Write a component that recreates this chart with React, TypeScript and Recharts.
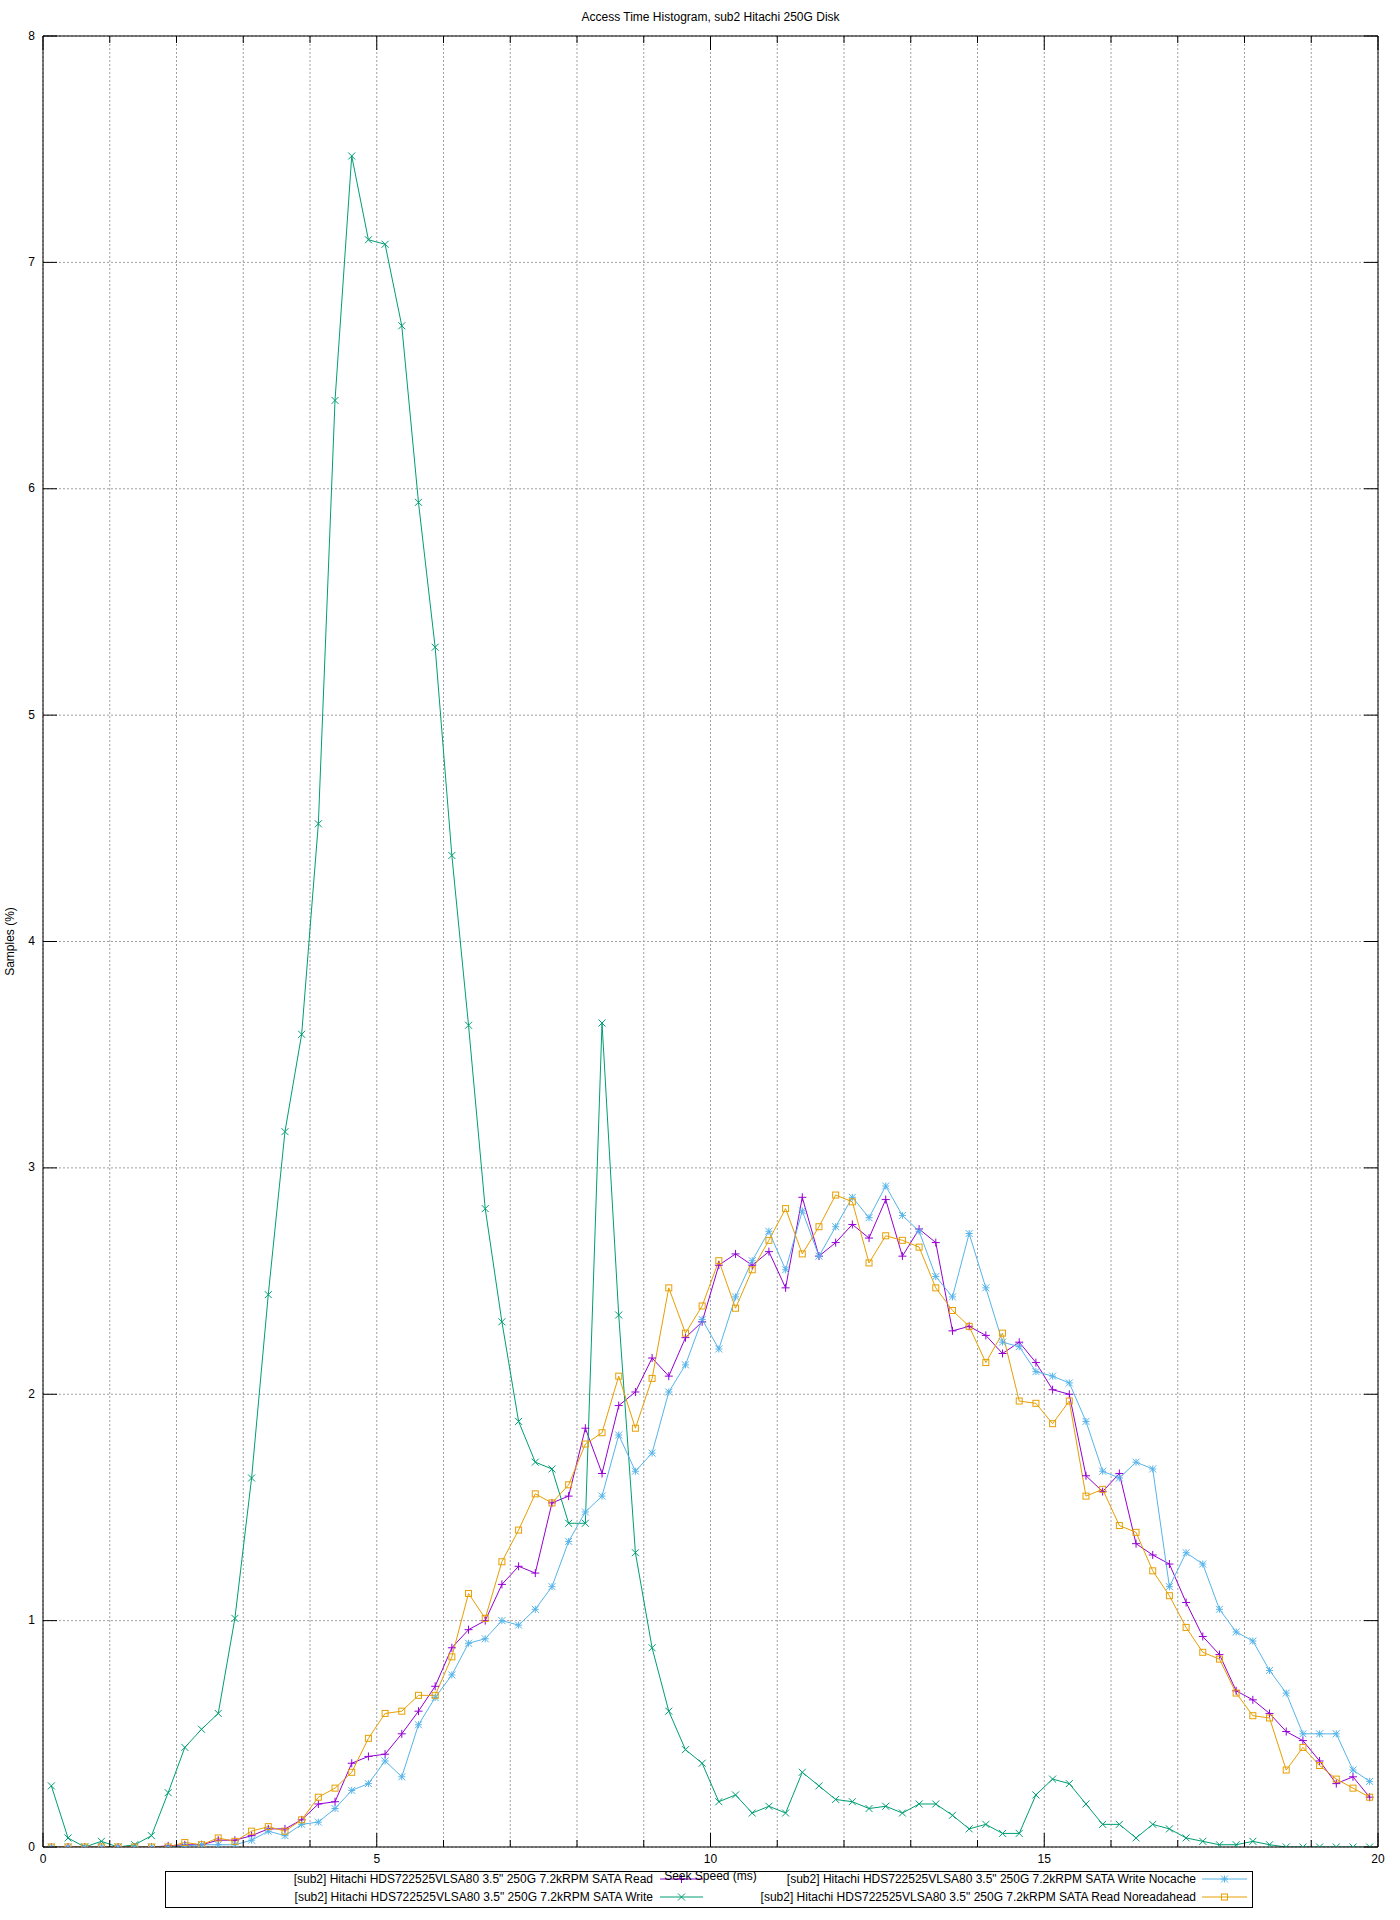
import React from 'react';
import { LineChart, Line, XAxis, YAxis, CartesianGrid } from 'recharts';

// Bin centres (ms)
const SEEK_MS = [
  0.125, 0.375, 0.625, 0.875, 1.125, 1.375, 1.625, 1.875, 2.125, 2.375,
  2.625, 2.875, 3.125, 3.375, 3.625, 3.875, 4.125, 4.375, 4.625, 4.875,
  5.125, 5.375, 5.625, 5.875, 6.125, 6.375, 6.625, 6.875, 7.125, 7.375,
  7.625, 7.875, 8.125, 8.375, 8.625, 8.875, 9.125, 9.375, 9.625, 9.875,
  10.125, 10.375, 10.625, 10.875, 11.125, 11.375, 11.625, 11.875, 12.125, 12.375,
  12.625, 12.875, 13.125, 13.375, 13.625, 13.875, 14.125, 14.375, 14.625, 14.875,
  15.125, 15.375, 15.625, 15.875, 16.125, 16.375, 16.625, 16.875, 17.125, 17.375,
  17.625, 17.875, 18.125, 18.375, 18.625, 18.875, 19.125, 19.375, 19.625, 19.875,
];

const READ = [
  0, 0, 0, 0, 0, 0, 0, 0.005, 0.01, 0.01,
  0.03, 0.03, 0.05, 0.08, 0.08, 0.12, 0.19, 0.2, 0.37, 0.4,
  0.41, 0.5, 0.6, 0.71, 0.88, 0.96, 1.0, 1.16, 1.24, 1.21,
  1.52, 1.55, 1.85, 1.65, 1.95, 2.01, 2.16, 2.08, 2.25, 2.32,
  2.57, 2.62, 2.57, 2.63, 2.47, 2.87, 2.61, 2.67, 2.75, 2.69,
  2.86, 2.61, 2.73, 2.67, 2.28, 2.3, 2.26, 2.18, 2.23, 2.14,
  2.02, 2.0, 1.64, 1.57, 1.65, 1.34, 1.29, 1.25, 1.08, 0.93,
  0.85, 0.69, 0.65, 0.59, 0.51, 0.47, 0.38, 0.28, 0.31, 0.22,
];

const WRITE = [
  0.27, 0.04, 0, 0.025, 0, 0.01, 0.05, 0.24, 0.44, 0.52,
  0.59, 1.01, 1.63, 2.44, 3.16, 3.59, 4.52, 6.39, 7.47, 7.1,
  7.08, 6.72, 5.94, 5.3, 4.38, 3.63, 2.82, 2.32, 1.88, 1.7,
  1.67, 1.43, 1.43, 3.64, 2.35, 1.3, 0.88, 0.6, 0.43, 0.37,
  0.2, 0.23, 0.15, 0.18, 0.15, 0.33, 0.27, 0.21, 0.2, 0.17,
  0.18, 0.15, 0.19, 0.19, 0.14, 0.08, 0.1, 0.06, 0.06, 0.23,
  0.3, 0.28, 0.19, 0.1, 0.1, 0.04, 0.1, 0.08, 0.04, 0.025,
  0.01, 0.01, 0.025, 0.01, 0, 0, 0, 0, 0, 0,
];

const WRITE_NOCACHE = [
  0, 0, 0, 0, 0, 0, 0, 0, 0.005, 0.01,
  0.01, 0.01, 0.03, 0.07, 0.05, 0.1, 0.11, 0.17, 0.25, 0.28,
  0.38, 0.31, 0.54, 0.66, 0.76, 0.9, 0.92, 1.0, 0.98, 1.05,
  1.15, 1.35, 1.48, 1.55, 1.82, 1.66, 1.74, 2.01, 2.13, 2.33,
  2.2, 2.43, 2.59, 2.72, 2.55, 2.81, 2.61, 2.74, 2.87, 2.78,
  2.92, 2.79, 2.72, 2.52, 2.43, 2.71, 2.47, 2.23, 2.21, 2.1,
  2.08, 2.05, 1.88, 1.66, 1.63, 1.7, 1.67, 1.15, 1.3, 1.25,
  1.05, 0.95, 0.91, 0.78, 0.68, 0.5, 0.5, 0.5, 0.34, 0.29,
];

const READ_NOREADAHEAD = [
  0, 0, 0, 0, 0, 0, 0, 0, 0.02, 0.01,
  0.04, 0.025, 0.07, 0.09, 0.07, 0.12, 0.22, 0.26, 0.33, 0.48,
  0.59, 0.6, 0.67, 0.67, 0.84, 1.12, 1.01, 1.26, 1.4, 1.56,
  1.52, 1.6, 1.78, 1.83, 2.08, 1.85, 2.07, 2.47, 2.27, 2.39,
  2.59, 2.38, 2.55, 2.68, 2.82, 2.62, 2.74, 2.88, 2.85, 2.58,
  2.7, 2.68, 2.65, 2.47, 2.37, 2.3, 2.14, 2.27, 1.97, 1.96,
  1.87, 1.97, 1.55, 1.58, 1.42, 1.39, 1.22, 1.11, 0.97, 0.86,
  0.83, 0.68, 0.58, 0.57, 0.34, 0.44, 0.36, 0.3, 0.26, 0.22,
];

const X_TICKS = [0, 1, 2, 3, 4, 5, 6, 7, 8, 9, 10, 11, 12, 13, 14, 15, 16, 17, 18, 19, 20];
const X_MAJOR = [0, 5, 10, 15, 20];
const Y_TICKS = [0, 1, 2, 3, 4, 5, 6, 7, 8];

const TITLE = 'Access Time Histogram, sub2 Hitachi 250G Disk';
const X_LABEL = 'Seek Speed (ms)';
const Y_LABEL = 'Samples (%)';

const SERIES = [
  { key: 'read', name: '[sub2] Hitachi HDS722525VLSA80 3.5" 250G 7.2kRPM SATA Read', color: '#9400d3', shape: 'plus' },
  { key: 'write', name: '[sub2] Hitachi HDS722525VLSA80 3.5" 250G 7.2kRPM SATA Write', color: '#009e73', shape: 'cross' },
  { key: 'nocache', name: '[sub2] Hitachi HDS722525VLSA80 3.5" 250G 7.2kRPM SATA Write Nocache', color: '#56b4e9', shape: 'star' },
  { key: 'noreadahead', name: '[sub2] Hitachi HDS722525VLSA80 3.5" 250G 7.2kRPM SATA Read Noreadahead', color: '#e69f00', shape: 'square' },
];

const DATA = SEEK_MS.map((x, i) => ({
  x,
  read: READ[i],
  write: WRITE[i],
  nocache: WRITE_NOCACHE[i],
  noreadahead: READ_NOREADAHEAD[i],
}));

const FONT = '"Liberation Sans", Arial, sans-serif';
const W = 1400;
const H = 1920;
const TOP = 36;
const BOTTOM_H = 73;
const LEFT_W = 43;
const RIGHT_W = 22;
const MAJOR_LEN = 14;
const MINOR_LEN = 7;

function Marker({ shape, color, cx, cy }: { shape: string; color: string; cx: number; cy: number }) {
  const h = shape === 'plus' ? 4 : 3.5;
  const plus = (
    <>
      <line x1={cx - h} y1={cy} x2={cx + h} y2={cy} stroke={color} strokeWidth={1} />
      <line x1={cx} y1={cy - h} x2={cx} y2={cy + h} stroke={color} strokeWidth={1} />
    </>
  );
  const cross = (
    <>
      <line x1={cx - h} y1={cy - h} x2={cx + h} y2={cy + h} stroke={color} strokeWidth={1} />
      <line x1={cx - h} y1={cy + h} x2={cx + h} y2={cy - h} stroke={color} strokeWidth={1} />
    </>
  );
  if (shape === 'plus') return <g>{plus}</g>;
  if (shape === 'cross') return <g>{cross}</g>;
  if (shape === 'star') return <g>{plus}{cross}</g>;
  return <rect x={cx - 3} y={cy - 3} width={6} height={6} fill="none" stroke={color} strokeWidth={1} />;
}

const makeDot = (shape: string, color: string, key: string) => (props: any) => {
  const { cx, cy, index } = props;
  if (cx == null || cy == null) return <g key={`${key}-${index}`} />;
  return (
    <g key={`${key}-${index}`}>
      <Marker shape={shape} color={color} cx={cx} cy={cy} />
    </g>
  );
};

const textStyle = { fontFamily: FONT, fontSize: 12, fill: '#000' } as const;

const BottomTick = (props: any) => {
  const { x, y, payload } = props;
  const major = X_MAJOR.includes(payload.value);
  return (
    <g>
      <line x1={x} y1={y} x2={x} y2={y - (major ? MAJOR_LEN : MINOR_LEN)} stroke="#000" strokeWidth={1} />
      {major && (
        <text x={x} y={y + 16} textAnchor="middle" style={textStyle}>
          {payload.value}
        </text>
      )}
    </g>
  );
};

const TopTick = (props: any) => {
  const { x, y, payload } = props;
  const major = X_MAJOR.includes(payload.value);
  return (
    <line x1={x} y1={y} x2={x} y2={y + (major ? MAJOR_LEN : MINOR_LEN)} stroke="#000" strokeWidth={1} />
  );
};

const LeftTick = (props: any) => {
  const { x, y, payload } = props;
  return (
    <g>
      <line x1={x} y1={y} x2={x + MAJOR_LEN} y2={y} stroke="#000" strokeWidth={1} />
      <text x={x - 8} y={y + 3.5} textAnchor="end" style={textStyle}>
        {payload.value}
      </text>
    </g>
  );
};

const RightTick = (props: any) => {
  const { x, y } = props;
  return <line x1={x} y1={y} x2={x - MAJOR_LEN} y2={y} stroke="#000" strokeWidth={1} />;
};

function Overlay() {
  const cols = [
    { textRight: 653, lineX1: 660, lineX2: 703 },
    { textRight: 1196, lineX1: 1202, lineX2: 1247 },
  ];
  const rows = [1879, 1897];
  const plotCenterX = (LEFT_W + (W - RIGHT_W)) / 2;
  const plotCenterY = (TOP + (H - BOTTOM_H)) / 2;
  return (
    <svg
      width={W}
      height={H}
      style={{ position: 'absolute', left: 0, top: 0, pointerEvents: 'none' }}
    >
      <text x={plotCenterX} y={21} textAnchor="middle" style={textStyle}>
        {TITLE}
      </text>
      <text
        x={0}
        y={0}
        textAnchor="middle"
        transform={`translate(14, ${plotCenterY}) rotate(-90)`}
        style={textStyle}
      >
        {Y_LABEL}
      </text>
      <rect x={165.5} y={1871.5} width={1087} height={36} fill="none" stroke="#000" strokeWidth={1} />
      {SERIES.map((s, i) => {
        const col = cols[Math.floor(i / 2)];
        const ry = rows[i % 2];
        return (
          <g key={s.key}>
            <text x={col.textRight} y={ry + 4} textAnchor="end" style={textStyle}>
              {s.name}
            </text>
            <line x1={col.lineX1} y1={ry} x2={col.lineX2} y2={ry} stroke={s.color} strokeWidth={1} />
            <Marker shape={s.shape} color={s.color} cx={(col.lineX1 + col.lineX2) / 2} cy={ry} />
          </g>
        );
      })}
      <text x={plotCenterX} y={1880} textAnchor="middle" style={textStyle}>
        {X_LABEL}
      </text>
    </svg>
  );
}

export default function App() {
  return (
    <div style={{ position: 'absolute', left: 0, top: 0, width: W, height: H, background: '#fff' }}>
      <LineChart width={W} height={H} data={DATA} margin={{ top: 0, right: 0, bottom: 0, left: 0 }}>
        <CartesianGrid stroke="#a0a0a0" strokeDasharray="2 2" strokeWidth={1} />
        <XAxis
          dataKey="x"
          type="number"
          domain={[0, 20]}
          ticks={X_TICKS}
          interval={0}
          height={BOTTOM_H}
          tickSize={0}
          tickMargin={0}
          tickLine={false}
          tick={BottomTick}
          axisLine={{ stroke: '#000', strokeWidth: 1 }}
          allowDataOverflow
        />
        <XAxis
          xAxisId="top"
          dataKey="x"
          orientation="top"
          type="number"
          domain={[0, 20]}
          ticks={X_TICKS}
          interval={0}
          height={TOP}
          tickSize={0}
          tickMargin={0}
          tickLine={false}
          tick={TopTick}
          axisLine={{ stroke: '#000', strokeWidth: 1 }}
          allowDataOverflow
        />
        <YAxis
          type="number"
          domain={[0, 8]}
          ticks={Y_TICKS}
          interval={0}
          width={LEFT_W}
          tickSize={0}
          tickMargin={0}
          tickLine={false}
          tick={LeftTick}
          axisLine={{ stroke: '#000', strokeWidth: 1 }}
          allowDataOverflow
        />
        <YAxis
          yAxisId="right"
          orientation="right"
          type="number"
          domain={[0, 8]}
          ticks={Y_TICKS}
          interval={0}
          width={RIGHT_W}
          tickSize={0}
          tickMargin={0}
          tickLine={false}
          tick={RightTick}
          axisLine={{ stroke: '#000', strokeWidth: 1 }}
          allowDataOverflow
        />
        {SERIES.map((s) => (
          <Line
            key={s.key}
            type="linear"
            dataKey={s.key}
            name={s.name}
            stroke={s.color}
            strokeWidth={1}
            dot={makeDot(s.shape, s.color, s.key)}
            activeDot={false}
            isAnimationActive={false}
          />
        ))}
      </LineChart>
      <Overlay />
    </div>
  );
}
